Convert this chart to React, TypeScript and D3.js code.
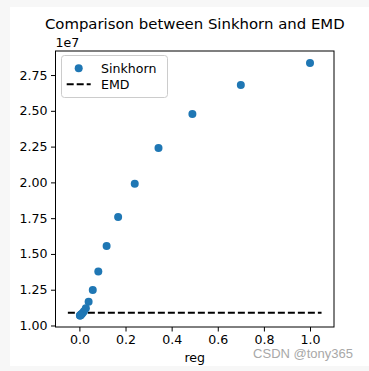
import React, { useRef, useEffect } from 'react';
import * as d3 from 'd3';

// Data
const regValues: number[] = [
  1.0, 0.7, 0.49, 0.343, 0.24, 0.168, 0.118, 0.082, 0.058, 0.04, 0.028, 0.02,
  0.014, 0.0097, 0.0068, 0.0047, 0.0033, 0.0023,
];
const sinkhornValues: number[] = [
  2.834e7, 2.68e7, 2.477e7, 2.24e7, 1.99e7, 1.758e7, 1.555e7, 1.377e7, 1.248e7,
  1.166e7, 1.12e7, 1.1e7, 1.088e7, 1.08e7, 1.075e7, 1.072e7, 1.07e7, 1.069e7,
];
const emdValue = 1.089e7;
const emdRange: [number, number] = [-0.05, 1.05];
const xTicks: number[] = [0.0, 0.2, 0.4, 0.6, 0.8, 1.0];
const yTicks: number[] = [1.0e7, 1.25e7, 1.5e7, 1.75e7, 2.0e7, 2.25e7, 2.5e7, 2.75e7];
const legendLabels: string[] = ['Sinkhorn', 'EMD'];

const W = 369;
const H = 371;
// axes box in pixels
const box = { left: 55.5, right: 334, top: 51, bottom: 327 };
const FONT = "'DejaVu Sans', sans-serif";
const BLUE = '#1f77b4';

export default function App() {
  const svgRef = useRef(null);

  useEffect(() => {
    const svg = d3.select(svgRef.current);
    svg.selectAll('*').remove();

    // page background and figure
    svg.append('rect').attr('width', W).attr('height', H).attr('fill', '#f7f7f7');
    svg.append('rect').attr('x', 10).attr('y', 7).attr('width', W - 10).attr('height', 359).attr('fill', '#ffffff');

    // Scales
    const xScale = d3.scaleLinear().domain([-0.1036, 1.104]).range([box.left, box.right]);
    const yScale = d3.scaleLinear().domain([0.9895e7, 2.918e7]).range([box.bottom, box.top]);

    // EMD line
    svg
      .append('line')
      .attr('x1', xScale(emdRange[0]))
      .attr('x2', xScale(emdRange[1]))
      .attr('y1', yScale(emdValue))
      .attr('y2', yScale(emdValue))
      .attr('stroke', 'black')
      .attr('stroke-width', 1.9)
      .attr('stroke-dasharray', '7,3');

    // Sinkhorn points
    svg
      .append('g')
      .selectAll('circle')
      .data(regValues.map((r, i) => [r, sinkhornValues[i]]))
      .join('circle')
      .attr('cx', (d) => xScale(d[0]))
      .attr('cy', (d) => yScale(d[1]))
      .attr('r', 4)
      .attr('fill', BLUE);

    // Axes
    const xAxis = d3.axisBottom(xScale).tickValues(xTicks).tickFormat(d3.format('.1f')).tickSize(4.5).tickPadding(3.5);
    const gx = svg.append('g').attr('transform', `translate(0,${box.bottom})`).call(xAxis);
    const yAxis = d3
      .axisLeft(yScale)
      .tickValues(yTicks)
      .tickFormat((d) => d3.format('.2f')((d as number) / 1e7))
      .tickSize(4.5)
      .tickPadding(3.5);
    const gy = svg.append('g').attr('transform', `translate(${box.left},0)`).call(yAxis);

    [gx, gy].forEach((g) => {
      g.select('.domain').remove();
      g.selectAll('.tick line').attr('stroke', '#000').attr('stroke-width', 1);
      g.selectAll('.tick text').attr('fill', '#000').style('font-family', FONT).style('font-size', '12.6px');
    });
    gx.selectAll('.tick text').attr('dy', '0.71em');

    // spines
    svg
      .append('rect')
      .attr('x', box.left)
      .attr('y', box.top)
      .attr('width', box.right - box.left)
      .attr('height', box.bottom - box.top)
      .attr('fill', 'none')
      .attr('stroke', '#000')
      .attr('stroke-width', 1);

    // texts
    svg
      .append('text')
      .attr('x', (box.left + box.right) / 2)
      .attr('y', 28.5)
      .attr('text-anchor', 'middle')
      .style('font-family', FONT)
      .style('font-size', '14.9px')
      .text('Comparison between Sinkhorn and EMD');
    svg
      .append('text')
      .attr('x', box.left)
      .attr('y', 46.5)
      .style('font-family', FONT)
      .style('font-size', '12.6px')
      .text('1e7');
    svg
      .append('text')
      .attr('x', (box.left + box.right) / 2)
      .attr('y', 362)
      .attr('text-anchor', 'middle')
      .style('font-family', FONT)
      .style('font-size', '12.6px')
      .text('reg');

    // legend
    const legend = svg.append('g').attr('transform', 'translate(61.5,55.5)');
    legend
      .append('rect')
      .attr('width', 106)
      .attr('height', 42)
      .attr('rx', 3)
      .attr('fill', 'white')
      .attr('fill-opacity', 0.8)
      .attr('stroke', '#cccccc')
      .attr('stroke-width', 1);
    legend.append('circle').attr('cx', 17.2).attr('cy', 12.8).attr('r', 4).attr('fill', BLUE);
    legend
      .append('line')
      .attr('x1', 5.2)
      .attr('x2', 29.2)
      .attr('y1', 28.8)
      .attr('y2', 28.8)
      .attr('stroke', 'black')
      .attr('stroke-width', 1.9)
      .attr('stroke-dasharray', '7,3');
    legendLabels.forEach((label, i) => {
      legend
        .append('text')
        .attr('x', 39.5)
        .attr('y', 17.3 + i * 16)
        .style('font-family', FONT)
        .style('font-size', '12.6px')
        .text(label);
    });

    // watermark
    svg
      .append('text')
      .attr('x', 353)
      .attr('y', 358)
      .attr('text-anchor', 'end')
      .attr('fill', '#a8a8a8')
      .style('font-family', "'Liberation Sans', Arial, sans-serif")
      .style('font-size', '13px')
      .text('CSDN @tony365');
  }, []);

  return (
    <div style={{ position: 'absolute', left: 0, top: 0 }}>
      <svg ref={svgRef} width={W} height={H} style={{ display: 'block' }} />
    </div>
  );
}
